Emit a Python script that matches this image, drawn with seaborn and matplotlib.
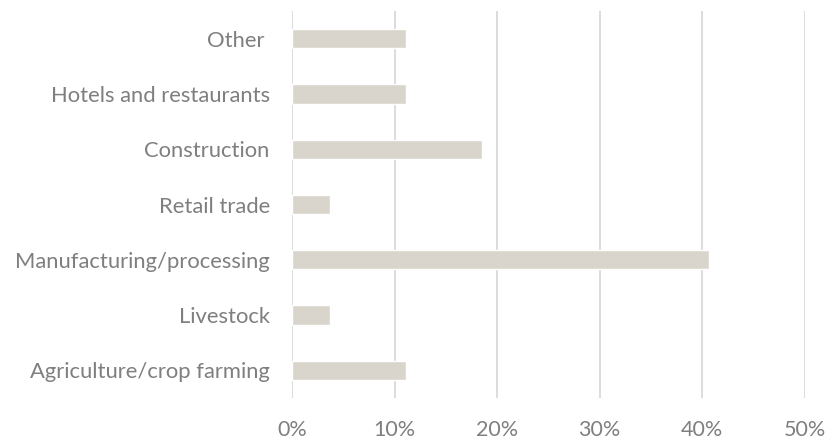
import seaborn as sns
import matplotlib.pyplot as plt
import pandas as pd
from matplotlib.ticker import PercentFormatter

categories = ["Other ", "Hotels and restaurants", "Construction", "Retail trade",
              "Manufacturing/processing", "Livestock", "Agriculture/crop farming"]
shares = [0.111, 0.111, 0.185, 0.037, 0.407, 0.037, 0.111]

df = pd.DataFrame({"sector": categories, "share": shares})

sns.set_style("white")
plt.rcParams["font.family"] = ["Lato", "DejaVu Sans"]

fig = plt.figure(figsize=(8.4, 4.41), dpi=100)
ax = fig.add_axes([0.3476, 0.0975, 0.6105, 0.8775])
sns.barplot(data=df, x="share", y="sector", color="#D9D5CC", saturation=1,
            width=0.35, ax=ax, zorder=3)

ax.set_xlim(0, 0.5)
ax.set_xticks([0, 0.1, 0.2, 0.3, 0.4, 0.5])
ax.xaxis.set_major_formatter(PercentFormatter(1.0, decimals=0))
ax.grid(axis="x", color="#D9D9D9", linewidth=1.3, zorder=0)
ax.set_axisbelow(True)
ax.set_xlabel("")
ax.set_ylabel("")
for s in ax.spines.values():
    s.set_visible(False)
ax.tick_params(axis="y", length=0, labelsize=15.8, colors="#7F7F7F", pad=16)
ax.tick_params(axis="x", length=0, labelsize=15.5, colors="#7F7F7F", pad=16)

fig.savefig("out.png", dpi=100)
